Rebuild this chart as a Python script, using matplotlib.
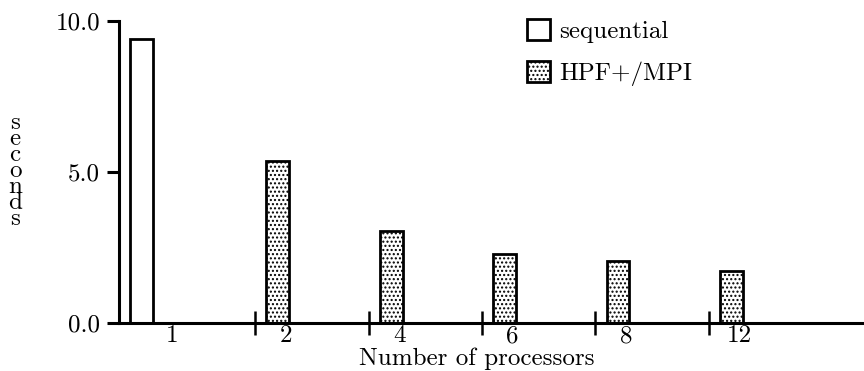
import numpy as np
import matplotlib.pyplot as plt

# Дані з графіка
procs = ['1', '2', '4', '6', '8', '12']
sequential = [9.40, 0, 0, 0, 0, 0]
hpf_mpi = [0, 5.36, 3.06, 2.28, 2.05, 1.73]
y_ticks = [0.0, 5.0, 10.0]

plt.rcParams['font.family'] = ['cmr10', 'DejaVu Serif']
plt.rcParams['hatch.color'] = '#a0a0a0'
plt.rcParams['hatch.linewidth'] = 1.0

fig = plt.figure(figsize=(8.64, 3.71), dpi=100)
ax = fig.add_axes([119 / 864, 1 - 323 / 371, (862 - 119) / 864, (323 - 21) / 371])

x = np.arange(len(procs))
width = 0.2
seq = np.array(sequential, dtype=float)
hpf = np.array(hpf_mpi, dtype=float)

# Стовпці: тільки ненульові
m = seq > 0
ax.bar(x[m] - width, seq[m], width, facecolor='white', edgecolor='black',
       linewidth=2.0, zorder=2)
m = hpf > 0
ax.bar(x[m], hpf[m], width, facecolor='white', edgecolor='black',
       hatch='....', linewidth=2.0, zorder=2)

ax.set_xlim(-0.40, 6.15)
ax.set_ylim(0, 10)

for s in ['top', 'right']:
    ax.spines[s].set_visible(False)
ax.spines['left'].set_bounds(0, 10)
ax.spines['left'].set_linewidth(2.2)
ax.spines['bottom'].set_linewidth(2.2)
ax.spines['left'].set_zorder(3)
ax.spines['bottom'].set_zorder(3)

ax.set_yticks(y_ticks)
ax.set_yticklabels([f'{v:.1f}' for v in y_ticks])
ax.tick_params(axis='y', length=8.6, width=2.2, pad=5, labelsize=18)

# Підписи груп і розділювачі
ax.set_xticks(x + 0.07)
ax.set_xticklabels(procs)
ax.set_xticks(x[1:] - width, minor=True)
ax.tick_params(axis='x', which='major', length=0, pad=1.5, labelsize=18)
ax.tick_params(axis='x', which='minor', direction='inout', length=17, width=1.8)

fig.text(477 / 864, 6 / 371, 'Number of processors', ha='center', va='baseline', fontsize=18)

# Вертикальний підпис осі y, по одній літері в рядку
fig.text(15 / 864, 1 - 171 / 371, '\n'.join('seconds'), ha='center', va='center',
         fontsize=18, linespacing=0.65)

# Легенда
h1 = plt.Rectangle((0, 0), 1, 1, facecolor='white', edgecolor='black', linewidth=2.0)
h2 = plt.Rectangle((0, 0), 1, 1, facecolor='white', edgecolor='black', linewidth=2.0, hatch='....')
ax.legend([h1, h2], ['sequential', 'HPF+/MPI'], loc='upper left',
          bbox_to_anchor=(517 / 864, 1 - 9 / 371), bbox_transform=fig.transFigure,
          frameon=False, fontsize=18, handlelength=0.9, handleheight=0.9,
          handletextpad=0.4, labelspacing=0.72, borderaxespad=0, borderpad=0.4)

fig.savefig('out.png', dpi=100)
